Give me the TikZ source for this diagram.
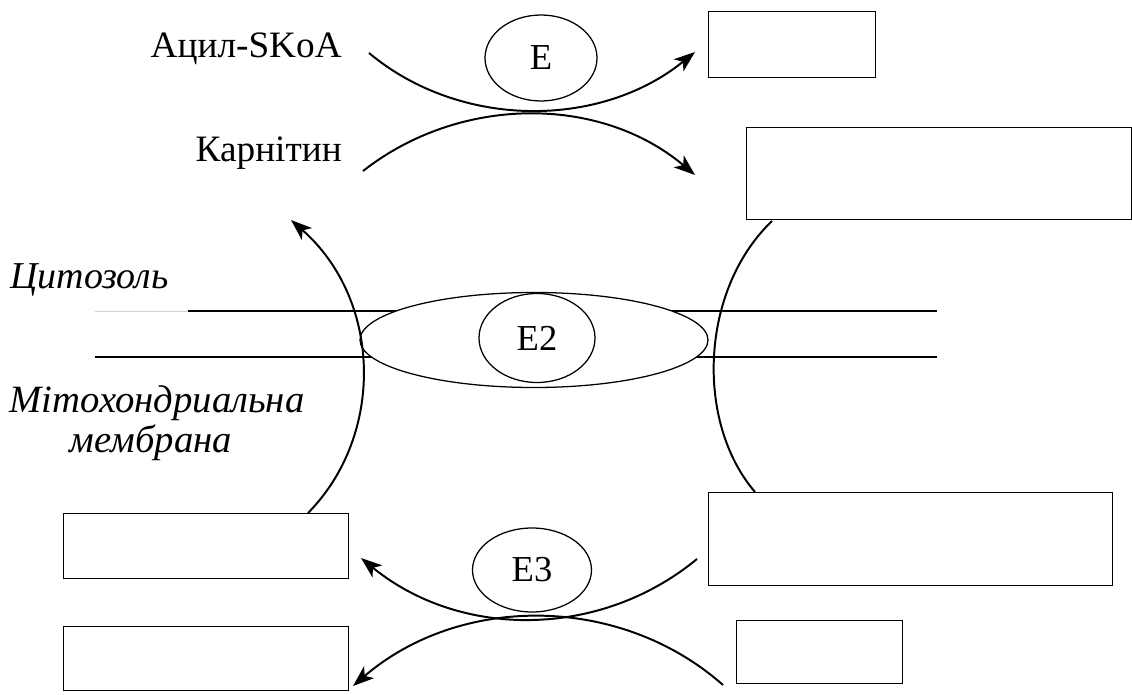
\documentclass[tikz,border=0pt]{standalone}
\usepackage{fontspec}
\setmainfont{Liberation Serif}
\usetikzlibrary{arrows.meta,shapes.geometric}

% one unit of the drawing grid
\newcommand\pxu{0.025cm}

\tikzset{
  label/.style={inner sep=0pt,font=\fontsize{26.5}{30}\selectfont},
  itlabel/.style={inner sep=0pt,font=\fontsize{27.5}{30}\selectfont\itshape},
  emptybox/.style={draw,line width=0.9pt,inner sep=0pt},
  enzyme/.style={draw,ellipse,line width=0.9pt,inner sep=0pt,
    font=\fontsize{26}{30}\selectfont},
  flow/.style={line width=1.4pt,-{Stealth[length=15pt,width=11pt,inset=4pt]}},
  plain/.style={line width=1.4pt}
}

\begin{document}
\begin{tikzpicture}[x=\pxu,y=-\pxu]
  \useasboundingbox (0,0) rectangle (1132,695);

  % membrane: two lines, the upper one fading out on the left
  \draw[gray!35,line width=0.6pt] (95,311) -- (188,311);
  \draw[line width=0.9pt] (188,311) -- (937,311);
  \draw[line width=0.9pt] (95,357) -- (937,357);
  \node[draw,fill=white,ellipse,line width=0.9pt,inner sep=0pt,
    minimum width=348*\pxu,minimum height=95*\pxu] (carrier) at (534,340) {};
  \node[enzyme,minimum width=116*\pxu,minimum height=89*\pxu] (e2) at (537,338) {E2};

  % labels
  \node[label,anchor=base east] (acyl) at (342,58) {Ацил-SKoA};
  \node[label,anchor=base east] (carn) at (342,162) {Карнітин};
  \node[itlabel,anchor=base west,font=\fontsize{27}{30}\selectfont\itshape] (cyto) at (10,289) {Цитозоль};
  \node[itlabel,anchor=base] (mito) at (157,412) {Мітохондриальна};
  \node[itlabel,anchor=base] (membr) at (151,452) {мембрана};

  % enzymes
  \node[enzyme,minimum width=112*\pxu,minimum height=86*\pxu] (e1) at (541,58) {E};
  \node[enzyme,minimum width=119*\pxu,minimum height=84*\pxu] (e3) at (532,570) {E3};

  % empty boxes
  \node[emptybox,anchor=north west,minimum width=167*\pxu,minimum height=66*\pxu] (b1) at (708,11) {};
  \node[emptybox,anchor=north west,minimum width=385*\pxu,minimum height=92*\pxu] (b2) at (746,127) {};
  \node[emptybox,anchor=north west,minimum width=285*\pxu,minimum height=65*\pxu] (b3) at (63,513) {};
  \node[emptybox,anchor=north west,minimum width=404*\pxu,minimum height=93*\pxu] (b4) at (708,492) {};
  \node[emptybox,anchor=north west,minimum width=285*\pxu,minimum height=64*\pxu] (b5) at (63,626) {};
  \node[emptybox,anchor=north west,minimum width=166*\pxu,minimum height=63*\pxu] (b6) at (736,620) {};

  % ends of the curved arrows
  \coordinate (acylend) at (369,53);
  \coordinate (b1in) at (695,52);
  \coordinate (carnend) at (363,171);
  \coordinate (b2in) at (695,175);
  \coordinate (b2out) at (772,221);
  \coordinate (b4top) at (755,492);
  \coordinate (b3top) at (308,513);
  \coordinate (cytoin) at (291,220);
  \coordinate (b4out) at (697,559);
  \coordinate (b3in) at (361,558);
  \coordinate (b6out) at (723,685);
  \coordinate (b5in) at (353,686);

  % acyl transfer on carnitine
  \draw[flow] (acylend) .. controls (460,129) and (600,129) .. (b1in);
  \draw[flow] (carnend) .. controls (460,95) and (600,95) .. (b2in);

  % through the membrane
  \draw[plain] (b2out) .. controls (700,290) and (695,422) .. (b4top);
  \draw[flow] (b3top) .. controls (385,435) and (382,300) .. (cytoin);

  % back on the matrix side
  \draw[flow] (b4out) .. controls (600,639) and (460,639) .. (b3in);
  \draw[flow] (b6out) .. controls (620,594) and (460,594) .. (b5in);
\end{tikzpicture}
\end{document}
